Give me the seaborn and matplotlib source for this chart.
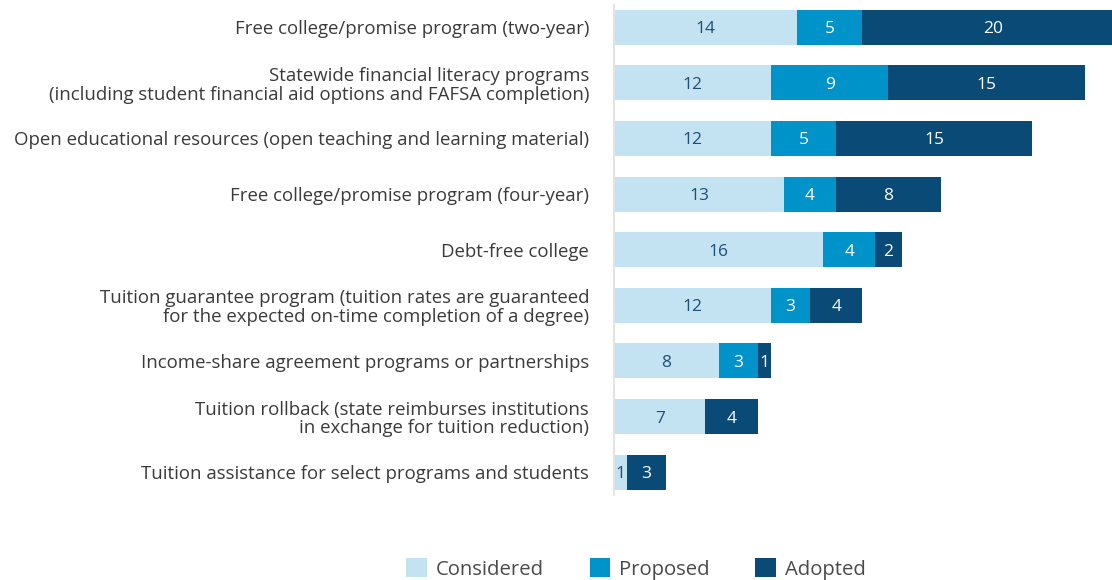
import numpy as np
import pandas as pd
import matplotlib.pyplot as plt
import seaborn as sns
from matplotlib.patches import Patch

CATEGORIES = [
    "Free college/promise program (two-year)",
    "Statewide financial literacy programs\n(including student financial aid options and FAFSA completion)",
    "Open educational resources (open teaching and learning material)",
    "Free college/promise program (four-year)",
    "Debt-free college",
    "Tuition guarantee program (tuition rates are guaranteed\nfor the expected on-time completion of a degree)",
    "Income-share agreement programs or partnerships",
    "Tuition rollback (state reimburses institutions\nin exchange for tuition reduction)",
    "Tuition assistance for select programs and students",
]
CONSIDERED = [14, 12, 12, 13, 16, 12, 8, 7, 1]
PROPOSED = [5, 9, 5, 4, 4, 3, 3, 0, 0]
ADOPTED = [20, 15, 15, 8, 2, 4, 1, 4, 3]

SERIES = ["Considered", "Proposed", "Adopted"]
COLORS = {"Considered": "#C3E2F2", "Proposed": "#0093C9", "Adopted": "#0A4A77"}
LABEL_COLORS = {"Considered": "#1F4E79", "Proposed": "white", "Adopted": "white"}


def main():
    sns.set_theme(style="white")
    plt.rcParams["font.family"] = ["Open Sans", "DejaVu Sans"]

    df = pd.DataFrame(
        {
            "category": CATEGORIES,
            "Considered": CONSIDERED,
            "Proposed": PROPOSED,
            "Adopted": ADOPTED,
        }
    )
    df["cum_considered"] = df["Considered"]
    df["cum_proposed"] = df["Considered"] + df["Proposed"]
    df["cum_adopted"] = df["cum_proposed"] + df["Adopted"]

    fig = plt.figure(figsize=(11.12, 5.8), dpi=100)
    ax = fig.add_axes([614 / 1112, 85 / 580, 1 - 614 / 1112, 490 / 580])

    bar_width = 0.63
    for col, name in [
        ("cum_adopted", "Adopted"),
        ("cum_proposed", "Proposed"),
        ("cum_considered", "Considered"),
    ]:
        sns.barplot(
            data=df,
            x=col,
            y="category",
            color=COLORS[name],
            width=bar_width,
            saturation=1,
            linewidth=0,
            ax=ax,
            orient="y",
        )

    # value labels centred in each segment
    for i, row in df.iterrows():
        start = 0
        for name in SERIES:
            val = row[name]
            if val > 0:
                ax.text(
                    start + val / 2,
                    i,
                    str(val),
                    ha="center",
                    va="center_baseline",
                    fontsize=12.5,
                    color=LABEL_COLORS[name],
                )
            start += val

    ax.set_xlim(0, 38.1)
    ax.set_ylim(8.41, -0.4)
    ax.set_xlabel("")
    ax.set_ylabel("")
    ax.set_xticks([])
    ax.tick_params(axis="y", length=0, pad=18, labelsize=13.4, labelcolor="#3a3a3a")
    for lbl in ax.get_yticklabels():
        lbl.set_linespacing(1.05)

    for side in ["top", "right", "bottom"]:
        ax.spines[side].set_visible(False)
    ax.spines["left"].set_color("#e3e3e3")
    ax.spines["left"].set_linewidth(1.5)

    handles = [Patch(facecolor=COLORS[n], edgecolor="none", label=n) for n in SERIES]
    leg = fig.legend(
        handles=handles,
        loc="center",
        bbox_to_anchor=(636 / 1112, 1 - 569 / 580),
        ncol=3,
        frameon=False,
        fontsize=14.6,
        handlelength=1.0,
        handleheight=1.0,
        handletextpad=0.45,
        columnspacing=2.25,
    )
    for t in leg.get_texts():
        t.set_color("#4a4a4a")

    fig.savefig("out.png", dpi=100)
    plt.close(fig)


if __name__ == "__main__":
    main()
